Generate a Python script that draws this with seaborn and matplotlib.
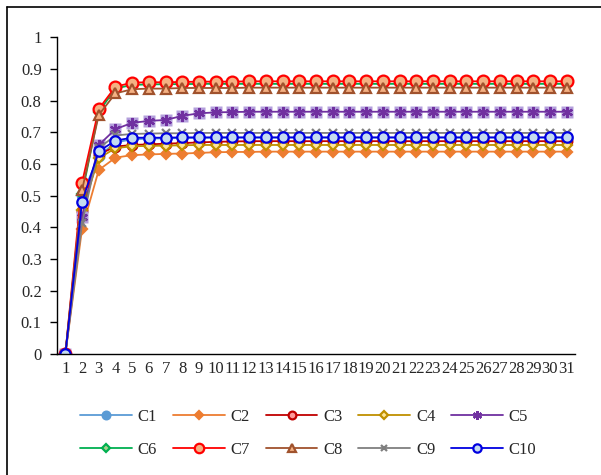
import matplotlib
matplotlib.use('Agg')
import matplotlib.pyplot as plt
from matplotlib.lines import Line2D
from matplotlib.ticker import FixedLocator
import seaborn as sns

# iteration index 1..31
steps = list(range(1, 32))
y_ticks = [0, 0.1, 0.2, 0.3, 0.4, 0.5, 0.6, 0.7, 0.8, 0.9, 1.0]
y_labels = ['0', '0.1', '0.2', '0.3', '0.4', '0.5', '0.6', '0.7', '0.8', '0.9', '1']

c1 = [0, 0.502, 0.625, 0.668, 0.678, 0.680, 0.681, 0.682, 0.682, 0.683, 0.683,
      0.683, 0.683, 0.683, 0.683, 0.683, 0.683, 0.683, 0.683, 0.683, 0.683,
      0.683, 0.683, 0.683, 0.683, 0.683, 0.683, 0.683, 0.683, 0.683, 0.683]
c2 = [0, 0.395, 0.581, 0.620, 0.628, 0.630, 0.632, 0.633, 0.635, 0.637, 0.638,
      0.638, 0.639, 0.639, 0.639, 0.639, 0.639, 0.639, 0.639, 0.639, 0.639,
      0.639, 0.639, 0.639, 0.639, 0.639, 0.639, 0.639, 0.639, 0.639, 0.639]
c3 = [0, 0.450, 0.630, 0.655, 0.660, 0.662, 0.664, 0.666, 0.668, 0.670, 0.671,
      0.672, 0.672, 0.672, 0.672, 0.672, 0.672, 0.672, 0.672, 0.672, 0.672,
      0.672, 0.672, 0.672, 0.672, 0.672, 0.672, 0.672, 0.672, 0.672, 0.672]
c4 = [0, 0.455, 0.618, 0.650, 0.656, 0.657, 0.658, 0.659, 0.660, 0.660, 0.660,
      0.660, 0.660, 0.660, 0.660, 0.660, 0.660, 0.660, 0.660, 0.660, 0.660,
      0.660, 0.660, 0.660, 0.660, 0.660, 0.660, 0.660, 0.660, 0.660, 0.660]
c5 = [0, 0.434, 0.660, 0.710, 0.730, 0.736, 0.739, 0.752, 0.760, 0.763, 0.764,
      0.765, 0.765, 0.765, 0.765, 0.765, 0.765, 0.765, 0.765, 0.765, 0.765,
      0.765, 0.765, 0.765, 0.765, 0.765, 0.765, 0.765, 0.765, 0.765, 0.765]
c6 = [0, 0.505, 0.765, 0.838, 0.850, 0.851, 0.852, 0.852, 0.853, 0.853, 0.853,
      0.853, 0.853, 0.853, 0.853, 0.853, 0.853, 0.853, 0.853, 0.853, 0.853,
      0.853, 0.853, 0.853, 0.853, 0.853, 0.853, 0.853, 0.853, 0.853, 0.853]
c7 = [0, 0.541, 0.774, 0.844, 0.857, 0.858, 0.858, 0.859, 0.860, 0.860, 0.860,
      0.861, 0.861, 0.861, 0.861, 0.861, 0.861, 0.861, 0.861, 0.861, 0.861,
      0.861, 0.861, 0.861, 0.861, 0.861, 0.861, 0.861, 0.861, 0.861, 0.861]
c8 = [0, 0.518, 0.755, 0.823, 0.836, 0.838, 0.838, 0.840, 0.840, 0.840, 0.840,
      0.841, 0.841, 0.841, 0.841, 0.841, 0.841, 0.841, 0.841, 0.841, 0.841,
      0.841, 0.841, 0.841, 0.841, 0.841, 0.841, 0.841, 0.841, 0.841, 0.841]
c9 = [0, 0.413, 0.650, 0.690, 0.695, 0.696, 0.697, 0.697, 0.698, 0.698, 0.698,
      0.698, 0.698, 0.698, 0.698, 0.698, 0.698, 0.698, 0.698, 0.698, 0.698,
      0.698, 0.698, 0.698, 0.698, 0.698, 0.698, 0.698, 0.698, 0.698, 0.698]
c10 = [0, 0.481, 0.640, 0.674, 0.683, 0.683, 0.683, 0.684, 0.684, 0.684, 0.684,
       0.684, 0.684, 0.684, 0.684, 0.684, 0.684, 0.684, 0.684, 0.684, 0.684,
       0.684, 0.684, 0.684, 0.684, 0.684, 0.684, 0.684, 0.684, 0.684, 0.684]

names = ['C1', 'C2', 'C3', 'C4', 'C5', 'C6', 'C7', 'C8', 'C9', 'C10']
series = [c1, c2, c3, c4, c5, c6, c7, c8, c9, c10]

# line colour, marker, marker face, marker edge, marker size
styles = {
    'C1': ('#5B9BD5', 'o', '#5B9BD5', '#5B9BD5', 7),
    'C2': ('#ED7D31', 'D', '#ED7D31', '#ED7D31', 5.5),
    'C3': ('#C00000', 'o', '#FF9999', '#C00000', 7),
    'C4': ('#BF9000', 'D', '#FFE699', '#BF9000', 5),
    'C5': ('#7030A0', (6, 2, 0), '#7030A0', '#7030A0', 8),
    'C6': ('#00B050', 'D', '#A9D18E', '#00B050', 5),
    'C7': ('#FF0000', 'o', '#F4B183', '#FF0000', 8.5),
    'C8': ('#A0522D', '^', '#F4B183', '#A0522D', 7),
    'C9': ('#7F7F7F', 'x', '#7F7F7F', '#7F7F7F', 6),
    'C10': ('#0000E0', 'o', '#C5DCF0', '#0000E0', 7.5),
}

sns.set_style('white')
plt.rcParams['font.family'] = ['Liberation Serif', 'DejaVu Serif']

fig = plt.figure(figsize=(6.01, 4.75), dpi=100)
ax = fig.add_axes([57 / 601, 1 - 354 / 475, 518 / 601, (354 - 37.3) / 475])

for name, vals in zip(names, series):
    col, mk, face, edge, ms = styles[name]
    if name == 'C5':
        # light square behind the star marker, as in the original
        sns.lineplot(x=steps, y=vals, ax=ax, color=col, linestyle='none',
                     marker='s', markersize=9, markerfacecolor='#B4A0DC',
                     markeredgecolor='none', legend=False)
    sns.lineplot(x=steps, y=vals, ax=ax, color=col, linewidth=1.3,
                 marker=mk, markersize=ms, markerfacecolor=face,
                 markeredgecolor=edge, markeredgewidth=1.6, label=name)

ax.set_xlim(0.5, 31.5)
ax.set_ylim(0, 1)
ax.yaxis.set_major_locator(FixedLocator(y_ticks))
ax.set_yticklabels(y_labels)
ax.xaxis.set_major_locator(FixedLocator(steps))
ax.set_xticklabels([str(s) for s in steps])
ax.xaxis.set_minor_locator(FixedLocator([s + 0.5 for s in range(0, 32)]))
ax.tick_params(axis='x', which='major', length=0, labelsize=12, pad=5)
ax.tick_params(axis='x', which='minor', length=5, width=1, direction='out', color='black')
ax.tick_params(axis='y', which='major', length=5, width=1, direction='out',
               labelsize=12, color='black', left=True, pad=6)
ax.set_xlabel('')
ax.set_ylabel('')
for side in ['top', 'right']:
    ax.spines[side].set_visible(False)
for side in ['left', 'bottom']:
    ax.spines[side].set_color('black')
    ax.spines[side].set_linewidth(1)

# legend fills column-wise, so interleave to get C1..C5 on the first row
handles, labels = ax.get_legend_handles_labels()
order = [0, 5, 1, 6, 2, 7, 3, 8, 4, 9]
ax.legend([handles[i] for i in order], [labels[i] for i in order], ncol=5,
          frameon=False, loc='center', markerscale=0.8,
          bbox_to_anchor=(0.513, 0.088), bbox_transform=fig.transFigure,
          fontsize=12, handlelength=3.1, handletextpad=0.35,
          columnspacing=0.95, labelspacing=1.0)

# chart border (left and top edges visible in the crop)
fig.add_artist(Line2D([6.5 / 601, 6.5 / 601], [0, 1 - 7 / 475], color='black',
                      linewidth=1.2, transform=fig.transFigure))
fig.add_artist(Line2D([6.5 / 601, 1], [1 - 7 / 475, 1 - 7 / 475], color='black',
                      linewidth=1.2, transform=fig.transFigure))

fig.savefig('out.png', dpi=100)
